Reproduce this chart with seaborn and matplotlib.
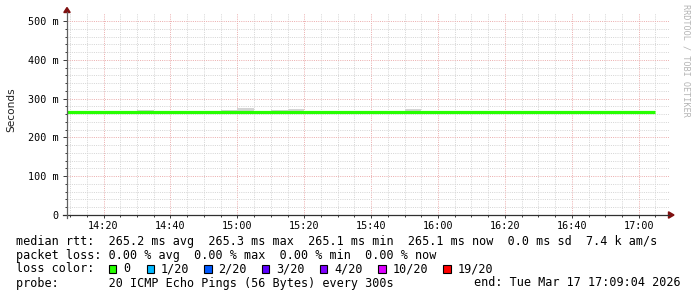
import matplotlib
matplotlib.use("Agg")
import matplotlib.pyplot as plt
import seaborn as sns
import pandas as pd
from matplotlib.patches import Rectangle, Polygon
from matplotlib.lines import Line2D

# ---------------- data ----------------
interval_start = ["14:05", "14:10", "14:15", "14:20", "14:25", "14:30", "14:35", "14:40", "14:45",
                  "14:50", "14:55", "15:00", "15:05", "15:10", "15:15", "15:20", "15:25", "15:30",
                  "15:35", "15:40", "15:45", "15:50", "15:55", "16:00", "16:05", "16:10", "16:15",
                  "16:20", "16:25", "16:30", "16:35", "16:40", "16:45", "16:50", "16:55", "17:00"]
median_ms = [265.2, 265.2, 265.1, 265.2, 265.2, 265.3, 265.2, 265.2, 265.1,
             265.2, 265.2, 265.3, 265.2, 265.2, 265.3, 265.2, 265.2, 265.1,
             265.2, 265.2, 265.2, 265.3, 265.2, 265.2, 265.1, 265.2, 265.2,
             265.2, 265.2, 265.1, 265.2, 265.2, 265.2, 265.2, 265.1, 265.1]
smoke_max_ms = [266.5, 266.5, 266.5, 266.5, 266.5, 271.4, 266.5, 266.5, 266.5,
                266.5, 270.6, 276.0, 266.5, 271.4, 274.0, 266.5, 266.5, 266.5,
                266.5, 266.5, 266.5, 274.0, 266.5, 266.5, 266.5, 266.5, 266.5,
                266.5, 266.5, 266.5, 266.5, 266.5, 266.5, 266.5, 266.5, 266.5]
smoke_min_ms = [264.0, 264.0, 264.0, 264.0, 264.0, 264.0, 264.0, 264.0, 264.0,
                264.0, 264.0, 264.0, 264.0, 264.0, 264.0, 264.0, 264.0, 264.0,
                264.0, 264.0, 264.0, 264.0, 264.0, 264.0, 264.0, 264.0, 264.0,
                264.0, 264.0, 264.0, 264.0, 264.0, 264.0, 264.0, 264.0, 264.0]

x_tick_labels = ["14:20", "14:40", "15:00", "15:20", "15:40", "16:00", "16:20", "16:40", "17:00"]
y_tick_values = [0, 100, 200, 300, 400, 500]
y_tick_labels = ["0", "100 m", "200 m", "300 m", "400 m", "500 m"]

loss_labels = ["0", "1/20", "2/20", "3/20", "4/20", "10/20", "19/20"]
loss_colors = ["#26ff00", "#00b8ff", "#0059ff", "#5e00ff", "#7e00ff", "#dd00ff", "#ff0000"]

legend_rtt = "median rtt:  265.2 ms avg  265.3 ms max  265.1 ms min  265.1 ms now  0.0 ms sd  7.4 k am/s"
legend_loss = "packet loss: 0.00 % avg  0.00 % max  0.00 % min  0.00 % now"
legend_color = "loss color:"
legend_probe = "probe:       20 ICMP Echo Pings (56 Bytes) every 300s"
legend_end = "end: Tue Mar 17 17:09:04 2026"
watermark = "RRDTOOL / TOBI OETIKER"
y_label = "Seconds"


def to_min(s):
    h, m = s.split(":")
    return (int(h) - 14) * 60 + int(m)


xs = [to_min(s) for s in interval_start]
xs_step = xs + [xs[-1] + 5]
df = pd.DataFrame({"t": xs_step,
                   "median": median_ms + [median_ms[-1]],
                   "hi": smoke_max_ms + [smoke_max_ms[-1]],
                   "lo": smoke_min_ms + [smoke_min_ms[-1]]})

# ---------------- figure ----------------
W, H = 697, 297
fig = plt.figure(figsize=(W / 100, H / 100), dpi=100)
fig.patch.set_facecolor("white")


def fx(x):
    return x / W


def fy(y):
    return 1 - y / H


L, R, B, T = 67, 669, 215, 13
ax = fig.add_axes([fx(L), fy(B), (R - L) / W, (B - T) / H])
ax.set_facecolor("white")

x0 = 9 + 4 / 60
ax.set_xlim(x0, x0 + 180)
ax.set_ylim(0, (B - T) / 194 * 500)

mono = "DejaVu Sans Mono"
maj_x = [to_min(s) for s in x_tick_labels]
ax.set_xticks(maj_x)
ax.set_xticklabels(x_tick_labels, fontfamily=mono, fontsize=7.3)
ax.set_xticks([m for m in range(10, 190, 5) if m % 20 != 0], minor=True)
ax.set_yticks(y_tick_values)
ax.set_yticklabels(y_tick_labels, fontfamily=mono, fontsize=7.3)
ax.set_yticks([v for v in range(20, 520, 20) if v % 100 != 0], minor=True)
dot = (0, (1, 1.2))
ax.grid(which="minor", color="#d6d6d6", linestyle=dot, linewidth=0.72)
ax.grid(which="major", color="#ecb0b0", linestyle=dot, linewidth=0.72)
ax.set_axisbelow(True)
ax.tick_params(axis="y", which="major", length=3, width=0.72, pad=3, color="#404040")
ax.tick_params(axis="y", which="minor", length=1.5, width=0.72, color="#404040")
ax.tick_params(axis="x", which="major", length=2, width=0.72, pad=2.5, color="#404040")
ax.tick_params(axis="x", which="minor", length=1.5, width=0.72, color="#404040")
for s in ax.spines.values():
    s.set_visible(False)

# smoke
ax.fill_between(df["t"], df["lo"], df["hi"], step="post", color="#d4d4d4", linewidth=0, zorder=2)
# median line
sns.lineplot(data=df, x="t", y="median", ax=ax, drawstyle="steps-post", color="#26ff00",
             linewidth=2.3, solid_capstyle="butt", zorder=3, legend=False)
ax.set_xlabel("")
ax.set_ylabel("")

# axes lines and arrows
axis_col = "#303030"
fig.add_artist(Line2D([fx(63), fx(669)], [fy(215), fy(215)], color=axis_col, lw=0.9))
fig.add_artist(Line2D([fx(67), fx(67)], [fy(218), fy(12)], color="#606060", lw=0.9))
arrow_col = "#7f1010"
fig.add_artist(Polygon([(fx(67), fy(7.5)), (fx(63.8), fy(12.5)), (fx(70.2), fy(12.5))],
                       closed=True, color=arrow_col, transform=fig.transFigure))
fig.add_artist(Polygon([(fx(674), fy(215)), (fx(668.5), fy(211.8)), (fx(668.5), fy(218.2))],
                       closed=True, color=arrow_col, transform=fig.transFigure))

# y label
fig.text(fx(11), fy(110), y_label, rotation=90, ha="center", va="center",
         fontfamily="DejaVu Sans", fontsize=7.6, color="#202020")

# watermark
fig.text(fx(686), fy(4), watermark, rotation=270, ha="center", va="top",
         fontfamily=mono, fontsize=6.1, color="#b4b4b4")

# legend
lfs = 8.5
fig.text(fx(16), fy(241), legend_rtt, ha="left", va="center", fontfamily=mono, fontsize=lfs)
fig.text(fx(16), fy(255), legend_loss, ha="left", va="center", fontfamily=mono, fontsize=lfs)
fig.text(fx(16), fy(269), legend_color, ha="left", va="center", fontfamily=mono, fontsize=lfs)
box_x = [108.5, 146.5, 204, 261.5, 319.5, 378, 443]
for bx, lab, col in zip(box_x, loss_labels, loss_colors):
    fig.add_artist(Rectangle((fx(bx), fy(273)), 7.5 / W, 8 / H, facecolor=col,
                             edgecolor="black", linewidth=0.8, transform=fig.transFigure))
    fig.text(fx(bx + 14.5), fy(269), lab, ha="left", va="center", fontfamily=mono, fontsize=lfs)
fig.text(fx(16), fy(283), legend_probe, ha="left", va="center", fontfamily=mono, fontsize=lfs)
fig.text(fx(680.5), fy(283), legend_end, ha="right", va="center", fontfamily=mono, fontsize=lfs)

fig.savefig("out.png", dpi=100, facecolor="white")
